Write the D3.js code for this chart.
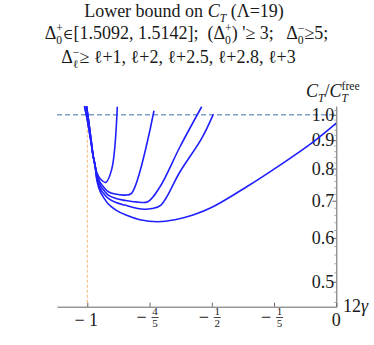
<!DOCTYPE html>
<html>
<head>
<meta charset="utf-8">
<script src="https://cdn.jsdelivr.net/npm/d3@7"></script>
<style>
  body { margin: 0; background: #fff; }
  svg text { font-family: 'Liberation Serif', 'DejaVu Serif', serif !important; fill: #1a1a1a; }
</style>
</head>
<body>
<svg id="chart" width="374" height="345" font-family="Liberation Serif, serif"></svg>
<script>
// x ticks (12*gamma) and their labels
const xTicks = [-1, -0.8, -0.5, -0.2, 0];
const xTickLabels = [
  { minus: true, n: "1" },
  { minus: true, n: "4", d: "5" },
  { minus: true, n: "1", d: "2" },
  { minus: true, n: "1", d: "5" },
  { minus: false, n: "0" }
];
const yTicks = [0.5, 0.6, 0.7, 0.8, 0.9, 1.0];
const yMinorTicks = d3.range(0.46, 1.03, 0.02).map(v => +v.toFixed(2));

// gap assumptions on Delta_l^-, one curve each
const gapLabels = ["ℓ+3", "ℓ+2.8", "ℓ+2.5", "ℓ+2", "ℓ+1"];

// lower bound on C_T / C_T^free vs 12 gamma
const boundL3 = [[-1.009, 1.037], [-1.001, 0.986], [-0.9945, 0.9385], [-0.9881, 0.8929], [-0.9817, 0.846],
  [-0.9753, 0.8116], [-0.9688, 0.7851], [-0.9592, 0.7674], [-0.9409, 0.7554], [-0.9216, 0.7973], [-0.9036, 1.0338]];
const boundL28 = [[-1.009, 1.037], [-1.001, 0.986], [-0.9945, 0.9385], [-0.9881, 0.8929], [-0.9817, 0.846],
  [-0.9753, 0.8116], [-0.9688, 0.7786], [-0.9592, 0.7563], [-0.9463, 0.7393], [-0.9325, 0.7265], [-0.911, 0.7197],
  [-0.8789, 0.7166], [-0.858, 0.7217], [-0.7786, 1.0167]];
const boundL25 = [[-1.0026, 1.037], [-0.997, 0.986], [-0.992, 0.9385], [-0.987, 0.8929], [-0.9817, 0.846],
  [-0.9753, 0.8116], [-0.9688, 0.7722], [-0.9592, 0.747], [-0.9463, 0.7301], [-0.9325, 0.7166], [-0.9078, 0.7063],
  [-0.8789, 0.701], [-0.8435, 0.6967], [-0.8059, 0.697], [-0.7496, 0.7417], [-0.6533, 0.8757], [-0.5487, 1.0338]];
const boundL2 = [[-1.0026, 1.037], [-0.997, 0.986], [-0.992, 0.9385], [-0.987, 0.8929], [-0.9817, 0.846],
  [-0.9753, 0.8116], [-0.9688, 0.7658], [-0.9592, 0.7378], [-0.9463, 0.7197], [-0.9325, 0.7069], [-0.9078, 0.6947],
  [-0.8789, 0.6875], [-0.8252, 0.6762], [-0.7882, 0.6776], [-0.7448, 0.6875], [-0.6533, 0.7894], [-0.5487, 0.9067],
  [-0.4928, 1.0017]];
const boundL1 = [[-1.0026, 1.037], [-0.997, 0.986], [-0.992, 0.9385], [-0.987, 0.8929], [-0.9817, 0.846],
  [-0.9753, 0.8116], [-0.9688, 0.7595], [-0.9592, 0.7286], [-0.9463, 0.7078], [-0.9325, 0.6904], [-0.9078, 0.6734],
  [-0.8757, 0.6595], [-0.8307, 0.6468], [-0.7593, 0.6415], [-0.6774, 0.6468], [-0.5906, 0.6595], [-0.4942, 0.6827],
  [-0.3318, 0.7417], [-0.1809, 0.8116], [-0.0739, 0.894], [0, 0.9661]];
const bounds = [boundL3, boundL28, boundL25, boundL2, boundL1];

const svg = d3.select('#chart');

// Scales: the x axis is not linear in the labels, ticks are evenly spaced
const xMin = -1.0973;
const x = d3.scaleLinear()
  .domain([xMin, ...xTicks])
  .range([57, 87.3, 149.55, 211.8, 274.05, 336.3]);
const y = d3.scaleLog()
  .domain([0.451, 1.037])
  .range([306.7, 106]);

// rich text helper: plain strings or {b, i, sub, sup, s}
function rich(sel, px, py, parts, anchor, size) {
  const t = sel.append('text')
    .attr('x', px).attr('y', py)
    .attr('text-anchor', anchor || 'start')
    .attr('font-size', size || 18)
    .style('white-space', 'pre');
  let pendingDy = 0;
  parts.forEach(p => {
    if (typeof p === 'string') p = { b: p };
    const b = t.append('tspan').text(p.b);
    if (pendingDy) { b.attr('dy', pendingDy); pendingDy = 0; }
    if (p.i) b.attr('font-style', 'italic');
    if (p.s) b.attr('font-size', p.s);
    let subW = 0;
    if (p.sub) {
      const s = t.append('tspan').attr('dy', 4.5).attr('font-size', '0.65em').text(p.sub);
      if (p.subI) s.attr('font-style', 'italic');
      subW = s.node().getComputedTextLength();
      pendingDy = -4.5;
    }
    if (p.sup) {
      const s = t.append('tspan')
        .attr('dx', p.sub ? -subW : 0)
        .attr('dy', p.sub ? -11.5 : -7)
        .attr('font-size', '0.65em').text(p.sup);
      const supW = s.node().getComputedTextLength();
      pendingDy = 7;
      if (p.sub && subW > supW) {
        t.append('tspan').attr('dx', subW - supW).text('\u200a');
      }
    }
  });
  return t;
}

// Title
const title = svg.append('g');
rich(title, 184, 17.3, ['Lower bound on ', { b: 'C', i: true, sub: 'T', subI: true }, ' (Λ=19)'], 'middle');
rich(title, 186.5, 39.3, [{ b: 'Δ', sub: '0', sup: '+' }, { b: '∈', s: '0.8em' }, '[1.5092, 1.5142];  (',
  { b: 'Δ', sub: '0', sup: '+' }, ") '≥ 3;   ", { b: 'Δ', sub: '0', sup: '−' }, '≥5;'], 'middle');
rich(title, 178.5, 63.3, [{ b: 'Δ', sub: 'ℓ', sup: '−' }, '≥ ' + gapLabels.slice().reverse().join(', ')], 'middle');

// clip to plot area
svg.append('clipPath').attr('id', 'plotClip')
  .append('rect')
  .attr('x', x(xMin)).attr('y', y(1.037))
  .attr('width', x(0) - x(xMin)).attr('height', y(0.451) - y(1.037));

// reference lines
svg.append('line')
  .attr('x1', x(-1)).attr('x2', x(-1))
  .attr('y1', y(1)).attr('y2', y(0.451))
  .attr('stroke', '#f6b778').attr('stroke-width', 1)
  .attr('stroke-dasharray', '3,2');
svg.append('line')
  .attr('x1', x(xMin)).attr('x2', x(0))
  .attr('y1', y(1)).attr('y2', y(1))
  .attr('stroke', '#7f9dcb').attr('stroke-width', 1.5)
  .attr('stroke-dasharray', '5,3');

// Axes
const xAxis = svg.append('g')
  .attr('transform', `translate(0, ${y(0.451)})`)
  .call(d3.axisBottom(x).tickValues(xTicks).tickSize(-4).tickSizeOuter(0).tickFormat(''));
const yAxis = svg.append('g')
  .attr('transform', `translate(${x(0)}, 0)`)
  .call(d3.axisLeft(y).tickValues(yTicks).tickSize(4).tickSizeOuter(0).tickPadding(-2)
    .tickFormat(d3.format('.1f')));
svg.append('g')
  .attr('transform', `translate(${x(0)}, 0)`)
  .call(d3.axisLeft(y).tickValues(yMinorTicks.filter(v => !yTicks.some(t => Math.abs(t - v) < 1e-6)))
    .tickSize(2).tickSizeOuter(0).tickFormat(''))
  .call(g => g.select('.domain').remove())
  .call(g => g.selectAll('line').attr('stroke', '#aaa'));
[xAxis, yAxis].forEach(a => {
  a.attr('font-family', null);
  a.select('.domain').attr('stroke', '#666');
  a.selectAll('.tick line').attr('stroke', '#666');
});
yAxis.attr('font-size', 18);
yAxis.selectAll('text').attr('fill', '#1a1a1a');

// x tick labels, with fractions
const xl = svg.append('g');
xTicks.forEach((v, i) => {
  const lab = xTickLabels[i];
  const cx = x(v);
  if (!lab.d) {
    xl.append('text').attr('x', cx - (lab.minus ? 1 : 0)).attr('y', 326)
      .attr('text-anchor', 'middle').attr('font-size', 18)
      .style('white-space', 'pre')
      .text((lab.minus ? '− ' : '') + lab.n);
  } else {
    xl.append('text').attr('x', cx - 8).attr('y', 323)
      .attr('text-anchor', 'middle').attr('font-size', 18).text('−');
    xl.append('text').attr('x', cx + 5.5).attr('y', 315)
      .attr('text-anchor', 'middle').attr('font-size', 11).text(lab.n);
    xl.append('line')
      .attr('x1', cx + 2).attr('x2', cx + 9)
      .attr('y1', 317.5).attr('y2', 317.5)
      .attr('stroke', '#1a1a1a').attr('stroke-width', 0.8);
    xl.append('text').attr('x', cx + 5.5).attr('y', 327)
      .attr('text-anchor', 'middle').attr('font-size', 11).text(lab.d);
  }
});

// axis titles
rich(svg, 343, 312, ['12', { b: 'γ', i: true }], 'start');
rich(svg, 306, 97, [{ b: 'C', i: true, sub: 'T', subI: true }, '/', { b: 'C', i: true, sub: 'T', subI: true, sup: 'free' }], 'start');

// bound curves
const line = d3.line()
  .x(d => x(d[0]))
  .y(d => y(d[1]))
  .curve(d3.curveCatmullRom.alpha(0.5));

svg.append('g')
  .attr('clip-path', 'url(#plotClip)')
  .selectAll('path')
  .data(bounds)
  .enter()
  .append('path')
  .attr('d', line)
  .attr('fill', 'none')
  .attr('stroke', '#1f1fff')
  .attr('stroke-width', 1.6)
  .attr('stroke-linejoin', 'round');
</script>
</body>
</html>
